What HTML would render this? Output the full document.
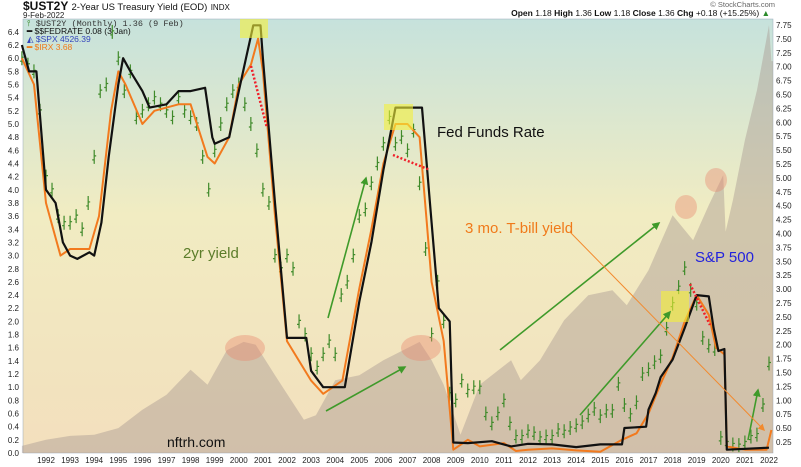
<!DOCTYPE html>
<html><head><meta charset="utf-8">
<style>
body{margin:0;background:#fff;width:801px;height:467px;overflow:hidden;font-family:"Liberation Sans",sans-serif}
svg{display:block}
</style></head>
<body>
<svg id="chart" width="801" height="467" viewBox="0 0 801 467" xmlns="http://www.w3.org/2000/svg">
<defs>
<linearGradient id="bg" x1="0" y1="0" x2="0" y2="1">
<stop offset="0" stop-color="#c6e2dc"/>
<stop offset="0.45" stop-color="#f1ecc2"/>
<stop offset="1" stop-color="#f3dfbd"/>
</linearGradient>
<marker id="ga" viewBox="0 0 10 10" refX="8" refY="5" markerWidth="5" markerHeight="5" orient="auto"><path d="M0,0L10,5L0,10z" fill="#3f9a2a"/></marker>
<marker id="oa" viewBox="0 0 10 10" refX="8" refY="5" markerWidth="7" markerHeight="7" orient="auto"><path d="M0,0L10,5L0,10z" fill="#f28a2e"/></marker>
</defs>
<text x="23" y="10" font-size="12" font-weight="bold" fill="#111">$UST2Y <tspan font-size="9.5" font-weight="normal">2-Year US Treasury Yield (EOD)</tspan> <tspan font-size="8" font-weight="normal">INDX</tspan></text>
<text x="23" y="18" font-size="8" fill="#222">9-Feb-2022</text>
<text x="775" y="7" font-size="7.5" fill="#666" text-anchor="end">© StockCharts.com</text>
<text x="770" y="16" font-size="8.5" fill="#111" text-anchor="end"><tspan font-weight="bold">Open</tspan> 1.18 <tspan font-weight="bold">High</tspan> 1.36 <tspan font-weight="bold">Low</tspan> 1.18 <tspan font-weight="bold">Close</tspan> 1.36 <tspan font-weight="bold">Chg</tspan> +0.18 (+15.25%) <tspan fill="#2a8a2a">▲</tspan></text>
<rect x="23" y="19" width="750" height="434" fill="url(#bg)" stroke="#9ab" stroke-width="0.5"/>
<g id="spx"></g>
<g id="bars"></g>
<g id="lines"></g>
<g id="axes"></g>
<g>
<rect x="240" y="19" width="28" height="19" fill="#f3f03a" opacity="0.6"/>
<rect x="384" y="104" width="29" height="26" fill="#f3f03a" opacity="0.6"/>
<rect x="661" y="291" width="28" height="31" fill="#f3f03a" opacity="0.6"/>
<ellipse cx="245" cy="348" rx="20" ry="13" fill="#e9866e" opacity="0.4"/>
<ellipse cx="421" cy="348" rx="20" ry="13" fill="#e9866e" opacity="0.4"/>
<ellipse cx="686" cy="207" rx="11" ry="12" fill="#e9866e" opacity="0.4"/>
<ellipse cx="716" cy="180" rx="11" ry="12" fill="#e9866e" opacity="0.4"/>
<line x1="251" y1="66" x2="267" y2="128" stroke="#f0202a" stroke-width="2.5" stroke-dasharray="2,2"/>
<line x1="393" y1="155" x2="430" y2="170" stroke="#f0202a" stroke-width="2.5" stroke-dasharray="2,2"/>
<line x1="690" y1="284" x2="710" y2="325" stroke="#f0202a" stroke-width="2.5" stroke-dasharray="2,2"/>
<line x1="328" y1="318" x2="366" y2="178" stroke="#3f9a2a" stroke-width="1.6" marker-end="url(#ga)"/>
<line x1="326" y1="411" x2="405" y2="367" stroke="#3f9a2a" stroke-width="1.6" marker-end="url(#ga)"/>
<line x1="500" y1="350" x2="659" y2="223" stroke="#3f9a2a" stroke-width="1.6" marker-end="url(#ga)"/>
<line x1="580" y1="415" x2="670" y2="312" stroke="#3f9a2a" stroke-width="1.6" marker-end="url(#ga)"/>
<line x1="748" y1="440" x2="758" y2="390" stroke="#3f9a2a" stroke-width="1.6" marker-end="url(#ga)"/>
<line x1="570" y1="232" x2="764" y2="430" stroke="#f28a2e" stroke-width="1" marker-end="url(#oa)"/>
<text x="437" y="137" font-size="15" fill="#111">Fed Funds Rate</text>
<text x="183" y="258" font-size="15" fill="#5c7d2a">2yr yield</text>
<text x="465" y="233" font-size="15" fill="#f07a1a">3 mo. T-bill yield</text>
<text x="695" y="262" font-size="15" fill="#2222dd">S&amp;P 500</text>
<text x="167" y="447" font-size="14" fill="#111">nftrh.com</text>
</g>
<g font-size="8.5">
<text x="27" y="26" fill="#333" font-family="Liberation Mono,monospace"><tspan fill="#3a8a2a">⫯</tspan> $UST2Y (Monthly) 1.36 (9 Feb)</text>
<text x="27" y="34" fill="#111"><tspan font-weight="bold">━</tspan> $$FEDRATE 0.08 (3 Jan)</text>
<text x="27" y="42" fill="#3344bb">◭ $SPX 4526.39</text>
<text x="27" y="50" fill="#f07a1a"><tspan font-weight="bold">━</tspan> $IRX 3.68</text>
</g>
</svg>
<script>
const years=[1992,1993,1994,1995,1996,1997,1998,1999,2000,2001,2002,2003,2004,2005,2006,2007,2008,2009,2010,2011,2012,2013,2014,2015,2016,2017,2018,2019,2020,2021,2022];
const leftTicks=[0.0,0.2,0.4,0.6,0.8,1.0,1.2,1.4,1.6,1.8,2.0,2.2,2.4,2.6,2.8,3.0,3.2,3.4,3.6,3.8,4.0,4.2,4.4,4.6,4.8,5.0,5.2,5.4,5.6,5.8,6.0,6.2,6.4];
const rightTicks=[0.25,0.5,0.75,1.0,1.25,1.5,1.75,2.0,2.25,2.5,2.75,3.0,3.25,3.5,3.75,4.0,4.25,4.5,4.75,5.0,5.25,5.5,5.75,6.0,6.25,6.5,6.75,7.0,7.25,7.5,7.75];
const fedT=[1991.0,1991.3,1991.6,1992.0,1992.4,1992.7,1993.0,1993.3,1993.8,1994.0,1994.3,1994.6,1995.0,1995.2,1995.5,1996.0,1996.3,1997.0,1997.5,1998.0,1998.6,1998.9,1999.0,1999.6,2000.0,2000.3,2000.6,2000.9,2001.0,2001.5,2002.0,2002.8,2003.0,2003.5,2004.4,2005.0,2005.5,2006.0,2006.5,2007.6,2008.0,2008.3,2008.75,2008.9,2009.5,2010.5,2011.3,2012.0,2013.0,2014.0,2015.0,2015.9,2016.0,2016.9,2017.0,2017.3,2017.5,2018.0,2018.5,2019.0,2019.5,2019.7,2019.9,2020.15,2020.25,2022.0];
const fedV=[6.2,5.8,5.8,4.0,3.8,3.2,3.0,2.95,3.05,3.0,3.5,4.5,5.6,6.0,5.8,5.5,5.25,5.3,5.5,5.5,5.55,4.8,4.7,4.8,5.5,6.0,6.5,6.5,6.0,3.8,1.75,1.75,1.25,1.0,1.0,2.3,3.2,4.3,5.25,5.25,3.5,2.2,2.0,0.16,0.15,0.18,0.1,0.14,0.13,0.09,0.13,0.13,0.38,0.4,0.66,0.91,1.15,1.42,1.9,2.4,2.38,1.9,1.55,1.58,0.05,0.08];
const irxT=[1991.0,1991.5,1992.0,1992.6,1993.0,1993.8,1994.2,1994.7,1995.0,1995.3,1996.0,1996.5,1997.5,1998.0,1998.7,1999.0,1999.6,2000.0,2000.5,2000.8,2001.0,2001.5,2002.0,2003.0,2003.5,2004.3,2005.0,2005.5,2006.0,2006.5,2007.0,2007.5,2007.8,2008.0,2008.5,2008.9,2009.5,2010.0,2011.0,2011.5,2012.0,2013.0,2014.0,2015.0,2015.9,2016.5,2017.0,2017.5,2018.0,2018.5,2019.0,2019.5,2019.8,2020.15,2020.25,2021.0,2021.9,2022.1];
const irxV=[6.0,5.6,3.8,3.0,3.1,3.1,3.6,5.2,5.8,5.6,5.0,5.2,5.3,5.3,4.5,4.4,4.8,5.6,5.9,6.3,5.8,3.6,1.7,1.1,0.9,1.1,2.5,3.4,4.4,5.0,5.0,4.8,3.5,2.6,1.7,0.05,0.2,0.1,0.15,0.03,0.05,0.07,0.04,0.02,0.2,0.3,0.6,1.05,1.45,2.0,2.4,2.1,1.6,1.5,0.1,0.05,0.05,0.35];
const ustStart=1991.0;
const ustClose=[6.0,5.9,5.8,5.2,4.2,4.0,3.6,3.5,3.5,3.6,3.4,3.8,4.5,5.5,5.6,6.4,6.0,5.5,5.8,5.1,5.2,5.3,5.4,5.3,5.2,5.1,5.4,5.2,5.1,5.0,4.5,4.0,4.6,5.0,5.3,5.5,5.6,5.3,5.0,4.6,4.0,3.8,3.0,2.8,3.0,2.8,2.0,1.8,1.5,1.3,1.5,1.7,1.5,2.4,2.6,3.0,3.6,3.7,4.1,4.4,4.7,5.1,4.7,4.8,4.6,4.9,4.1,3.1,1.8,2.6,2.0,0.9,0.8,1.1,0.95,1.0,1.0,0.6,0.45,0.6,0.8,0.45,0.25,0.25,0.33,0.3,0.23,0.25,0.25,0.35,0.33,0.38,0.42,0.47,0.57,0.67,0.56,0.64,0.64,1.05,0.73,0.58,0.77,1.2,1.27,1.38,1.47,1.89,2.27,2.52,2.81,2.48,2.27,1.75,1.63,1.58,0.23,0.16,0.13,0.12,0.16,0.25,0.28,0.73,1.36];
const spxT=[1991.0,1992,1993,1994,1995,1996,1997,1998,1998.7,1999.5,2000.2,2000.7,2001.5,2002.7,2003.2,2004,2005,2006,2007.5,2008,2008.5,2009.2,2010,2011.3,2011.7,2012.5,2013.5,2014.5,2015.5,2016.1,2017,2018,2018.85,2019.5,2020.1,2020.2,2020.5,2021,2021.5,2022.0,2022.1];
const spxV=[0.18,0.29,0.36,0.38,0.5,0.83,1.1,1.55,1.28,1.9,2.05,2.0,1.45,0.65,0.73,1.36,1.45,1.72,2.05,1.72,1.28,0.38,1.28,1.72,1.36,1.72,2.44,2.89,2.98,2.71,3.34,4.33,3.88,4.51,5.05,4.03,4.6,5.68,6.58,7.75,7.1];

const NS='http://www.w3.org/2000/svg';
const X0=23,X1=773,Y0=19,Y1=453;
const xs=t=>46+(t-1992)*24.1;
const yL=v=>453-v*65.8;
const yR=v=>442-(v-0.25)*55.6;
function mk(tag,attrs,parent){const e=document.createElementNS(NS,tag);for(const k in attrs)e.setAttribute(k,attrs[k]);parent.appendChild(e);return e;}

const spxG=document.getElementById('spx');
let d='M'+xs(spxT[0])+','+Y1;
spxT.forEach((t,i)=>{d+='L'+Math.min(X1,xs(t)).toFixed(1)+','+yR(spxV[i]).toFixed(1);});
d+='L'+X1+','+yR(spxV[spxV.length-1]).toFixed(1)+'L'+X1+','+Y1+'Z';
const area=mk('path',{d:d,fill:'#a89a92',opacity:'0.45'},spxG);



const barG=document.getElementById('bars');
ustClose.forEach((v,i)=>{
  const t=ustStart+i*0.25;
  const x=xs(t);
  const b=mk('path',{d:`M${x},${yL(v)-7}V${yL(v)+7}M${x-2},${yL(v)+3}H${x}M${x},${yL(v)-1}H${x+2}`,stroke:'#3f8a2a','stroke-width':'1.2',fill:'none'},barG);
  
  
});

const lg=document.getElementById('lines');
function poly(T,V,color,w,name){
  const pts=T.map((t,i)=>xs(t).toFixed(1)+','+yL(V[i]).toFixed(1)).join(' ');
  const p=mk('polyline',{points:pts,fill:'none',stroke:color,'stroke-width':w,'stroke-linejoin':'round'},lg);
  
  
}
poly(irxT,irxV,'#f27a1e','2','irx-line');
poly(fedT,fedV,'#111','2.2','fedrate-line');

const ax=document.getElementById('axes');
leftTicks.forEach(v=>{
  const t=mk('text',{x:'19',y:(yL(v)+3).toFixed(1),'font-size':'8','text-anchor':'end',fill:'#222'},ax);
  t.textContent=v.toFixed(1);
  
  
});
rightTicks.forEach(v=>{
  const t=mk('text',{x:'776',y:(yR(v)+3).toFixed(1),'font-size':'8',fill:'#222'},ax);
  t.textContent=v.toFixed(2);
  
  
});
years.forEach(y=>{
  const t=mk('text',{x:xs(y).toFixed(1),y:'463','font-size':'8','text-anchor':'middle',fill:'#222'},ax);
  t.textContent=y;
  
  
});
</script>
</body></html>
